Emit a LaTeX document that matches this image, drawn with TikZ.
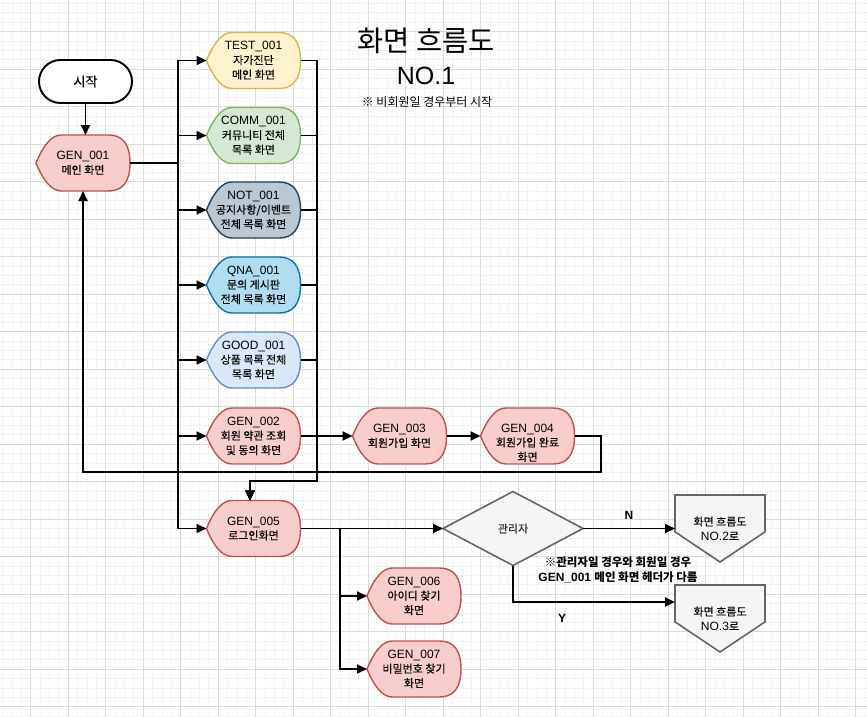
\documentclass[tikz,border=0pt]{standalone}
\usepackage{fontspec}
\setmainfont{Liberation Sans}
\newfontfamily\kr{Noto Sans CJK KR}[FakeBold=0.3]
\newfontfamily\krt{Noto Sans CJK KR}
\usetikzlibrary{arrows.meta,shapes.geometric}
\newcommand\hk[1]{{\kr\fontsize{11}{14.5}\selectfont #1}}
\definecolor{genF}{HTML}{F8CECC}\definecolor{genS}{HTML}{B85450}
\definecolor{testF}{HTML}{FFF2CC}\definecolor{testS}{HTML}{D6B656}
\definecolor{commF}{HTML}{D5E8D4}\definecolor{commS}{HTML}{82B366}
\definecolor{notF}{HTML}{BAC8D3}\definecolor{notS}{HTML}{23445D}
\definecolor{qnaF}{HTML}{B1DDF0}\definecolor{qnaS}{HTML}{10739E}
\definecolor{goodF}{HTML}{DAE8FC}\definecolor{goodS}{HTML}{6C8EBF}
\definecolor{grayF}{HTML}{F5F5F5}\definecolor{grayS}{HTML}{666666}
\definecolor{txtG}{HTML}{333333}
\definecolor{gridminor}{HTML}{F1F1F1}\definecolor{gridmajor}{HTML}{DADADA}
\makeatletter
\newdimen\dsL \newdimen\dsR \newdimen\dsT \newdimen\dsB \newdimen\dsM \newdimen\dsD \newdimen\dsH
\pgfdeclareshape{dispshape}{%
  \inheritsavedanchors[from=rectangle]%
  \inheritanchorborder[from=rectangle]%
  \inheritanchor[from=rectangle]{center}%
  \inheritanchor[from=rectangle]{north}%
  \inheritanchor[from=rectangle]{south}%
  \inheritanchor[from=rectangle]{east}%
  \inheritanchor[from=rectangle]{west}%
  \inheritanchor[from=rectangle]{north east}%
  \inheritanchor[from=rectangle]{north west}%
  \inheritanchor[from=rectangle]{south east}%
  \inheritanchor[from=rectangle]{south west}%
  \inheritanchor[from=rectangle]{text}%
  \inheritanchor[from=rectangle]{base}%
  \inheritanchor[from=rectangle]{mid}%
  \backgroundpath{%
    \southwest \dsL=\pgf@x \dsB=\pgf@y
    \northeast \dsR=\pgf@x \dsT=\pgf@y
    \dsM=\dsT \advance\dsM by \dsB \divide\dsM by 2
    \dsH=\dsT \advance\dsH by -\dsM
    \dsD=\dsR \advance\dsD by -\dsL \dsD=0.27\dsD
    \pgfpathmoveto{\pgfpoint{\dsL}{\dsM}}%
    \pgfpathcurveto{\pgfpoint{\dsL+0.3*\dsD}{\dsM+0.6667*\dsH}}{\pgfpoint{\dsL+0.6333*\dsD}{\dsT}}{\pgfpoint{\dsL+\dsD}{\dsT}}%
    \pgfpathlineto{\pgfpoint{\dsR-0.85*\dsD}{\dsT}}%
    \pgfpathcurveto{\pgfpoint{\dsR-0.2833*\dsD}{\dsT}}{\pgfpoint{\dsR}{\dsT-0.3333*\dsH}}{\pgfpoint{\dsR}{\dsM}}%
    \pgfpathcurveto{\pgfpoint{\dsR}{\dsB+0.3333*\dsH}}{\pgfpoint{\dsR-0.2833*\dsD}{\dsB}}{\pgfpoint{\dsR-0.85*\dsD}{\dsB}}%
    \pgfpathlineto{\pgfpoint{\dsL+\dsD}{\dsB}}%
    \pgfpathcurveto{\pgfpoint{\dsL+0.6333*\dsD}{\dsB}}{\pgfpoint{\dsL+0.3*\dsD}{\dsM-0.6667*\dsH}}{\pgfpoint{\dsL}{\dsM}}%
    \pgfpathclose
  }%
}
\pgfdeclareshape{offpageshape}{%
  \inheritsavedanchors[from=rectangle]%
  \inheritanchorborder[from=rectangle]%
  \inheritanchor[from=rectangle]{center}%
  \inheritanchor[from=rectangle]{north}%
  \inheritanchor[from=rectangle]{south}%
  \inheritanchor[from=rectangle]{east}%
  \inheritanchor[from=rectangle]{west}%
  \inheritanchor[from=rectangle]{north east}%
  \inheritanchor[from=rectangle]{north west}%
  \inheritanchor[from=rectangle]{south east}%
  \inheritanchor[from=rectangle]{south west}%
  \inheritanchor[from=rectangle]{text}%
  \inheritanchor[from=rectangle]{base}%
  \inheritanchor[from=rectangle]{mid}%
  \backgroundpath{%
    \southwest \dsL=\pgf@x \dsB=\pgf@y
    \northeast \dsR=\pgf@x \dsT=\pgf@y
    \dsH=\dsT \advance\dsH by -\dsB
    \dsM=\dsL \advance\dsM by \dsR \divide\dsM by 2
    \pgfpathmoveto{\pgfpoint{\dsL}{\dsT}}%
    \pgfpathlineto{\pgfpoint{\dsR}{\dsT}}%
    \pgfpathlineto{\pgfpoint{\dsR}{\dsB+0.45*\dsH}}%
    \pgfpathlineto{\pgfpoint{\dsM}{\dsB}}%
    \pgfpathlineto{\pgfpoint{\dsL}{\dsB+0.45*\dsH}}%
    \pgfpathclose
  }%
}
\makeatother
\begin{document}
\begin{tikzpicture}[x=1pt,y=-1pt,
  minorg/.style={draw=gridminor, line width=0.9pt},
  majorg/.style={draw=gridmajor, line width=0.9pt},
  disp/.style={shape=dispshape, minimum width=94pt, minimum height=56pt, inner sep=0pt, outer sep=0pt, align=center, line width=1.4pt, font=\fontsize{12}{14.5}\selectfont},
  gen/.style={disp, draw=genS, fill=genF},
  testst/.style={disp, draw=testS, fill=testF},
  commst/.style={disp, draw=commS, fill=commF},
  notst/.style={disp, draw=notS, fill=notF},
  qnast/.style={disp, draw=qnaS, fill=qnaF},
  goodst/.style={disp, draw=goodS, fill=goodF},
  startst/.style={rectangle, rounded corners=21.5pt, minimum width=93pt, minimum height=43pt, draw=black, fill=white, line width=1.9pt, inner sep=0pt, font=\kr\fontsize{13}{15}\selectfont},
  diam/.style={diamond, minimum width=140pt, minimum height=74pt, inner sep=0pt, outer sep=0pt, draw=grayS, fill=grayF, line width=1.6pt, text=txtG},
  offp/.style={shape=offpageshape, minimum width=90pt, minimum height=67pt, inner sep=0pt, outer sep=0pt, draw=grayS, fill=grayF, line width=1.6pt, align=center, font=\fontsize{12}{14.5}\selectfont},
  conn/.style={line width=1.9pt, -{Triangle[length=10pt,width=9pt]}},
  lbl/.style={font=\bfseries\fontsize{12}{14.5}\selectfont}
]
\fill[white] (0,0) rectangle (867,717);
\useasboundingbox (0,0) rectangle (867,717);
\foreach \k in {-3,...,89} {\draw[minorg] ({30.7+9.375*\k},0) -- ({30.7+9.375*\k},717);}
\foreach \k in {-3,...,73} {\draw[minorg] (0,{31.7+9.375*\k}) -- (867,{31.7+9.375*\k});}
\foreach \k in {0,...,22} {\draw[majorg] ({30.7+37.5*\k},0) -- ({30.7+37.5*\k},717);}
\foreach \k in {0,...,18} {\draw[majorg] (0,{31.7+37.5*\k}) -- (867,{31.7+37.5*\k});}

% title
\node (title) at (426,41) {\krt\fontsize{28.5}{32}\selectfont 화면 흐름도};
\node (no1) at (426,76) {\fontsize{25}{30}\selectfont NO.1};
\node (sub) at (427,102) {\krt\fontsize{12}{13}\selectfont ※ 비회원일 경우부터 시작};

% nodes
\node[startst] (start) at (85.5,81.5) {시작};
\node[gen] (g1) at (83,163) {GEN\_001\\\hk{메인 화면}};
\node[testst] (t1) at (253.5,60.5) {TEST\_001\\\hk{자가진단}\\\hk{메인 화면}};
\node[commst] (c1) at (253.5,135.5) {COMM\_001\\\hk{커뮤니티 전체}\\\hk{목록 화면}};
\node[notst] (n1) at (253.5,210) {NOT\_001\\\hk{공지사항/이벤트}\\\hk{전체 목록 화면}};
\node[qnast] (q1) at (253.5,285) {QNA\_001\\\hk{문의 게시판}\\\hk{전체 목록 화면}};
\node[goodst] (gd1) at (253.5,360) {GOOD\_001\\\hk{상품 목록 전체}\\\hk{목록 화면}};
\node[gen] (g2) at (253.5,436) {GEN\_002\\\hk{회원 약관 조회}\\\hk{및 동의 화면}};
\node[gen] (g3) at (399.5,436) {GEN\_003\\\hk{회원가입 화면}};
\node[gen] (g4) at (527.5,436) {\rule{0pt}{22pt}GEN\_004\\\hk{회원가입 완료}\\\hk{화면}};
\node[gen] (g5) at (253.5,528.5) {GEN\_005\\\hk{로그인화면}};
\node[gen] (g6) at (414,596) {GEN\_006\\\hk{아이디 찾기}\\\hk{화면}};
\node[gen] (g7) at (414,669) {GEN\_007\\\hk{비밀번호 찾기}\\\hk{화면}};
\node[diam] (dia) at (513,528.5) {\hk{관리자}};
\node[offp] (o2) at (720,528.5) {\hk{화면 흐름도}\\NO.2\hk{로}};
\node[offp] (o3) at (720,618.5) {\hk{화면 흐름도}\\NO.3\hk{로}};

% labels
\node[lbl] (lN) at (629,515) {N};
\node[lbl] (lY) at (562,618) {Y};
\node[align=center, font=\bfseries\fontsize{12}{14.5}\selectfont] (note) at (618,570)
  {{\krt\bfseries\fontsize{11.5}{14.5}\selectfont ※관리자일 경우와 회원일 경우}\\GEN\_001 {\krt\bfseries\fontsize{11.5}{14.5}\selectfont 메인 화면 헤더가 다름}};

% helper coordinates
\coordinate (bx) at (178,163);
\coordinate (rx) at (317,481);
\coordinate (jx) at (250,481);
\coordinate (lp) at (601,472);
\coordinate (bx2) at (340,528.5);

% connectors
\draw[conn] (start.south) -- (start.south |- g1.north);
\foreach \t in {t1,c1,n1,q1,gd1,g2,g5} {\draw[conn] (g1.east) -- (bx) |- (\t.west);}
\foreach \t in {t1,c1,n1,q1,gd1} {\draw[conn] (\t.east) -| (rx) -- (jx) -- (jx |- g5.north);}
\draw[conn] (g2.east) -- (g3.west);
\draw[conn] (g3.east) -- (g4.west);
\draw[conn] (g4.east) -| (lp) -| (g1.south);
\draw[conn] (g5.east) -- (dia.west);
\draw[conn] (g5.east) -- (bx2) |- (g6.west);
\draw[conn] (g5.east) -- (bx2) |- (g7.west);
\draw[conn] (dia.east) -- (o2.west);
\draw[conn] (dia.south) |- ([yshift=16.5pt]o3.west);
\end{tikzpicture}
\end{document}
